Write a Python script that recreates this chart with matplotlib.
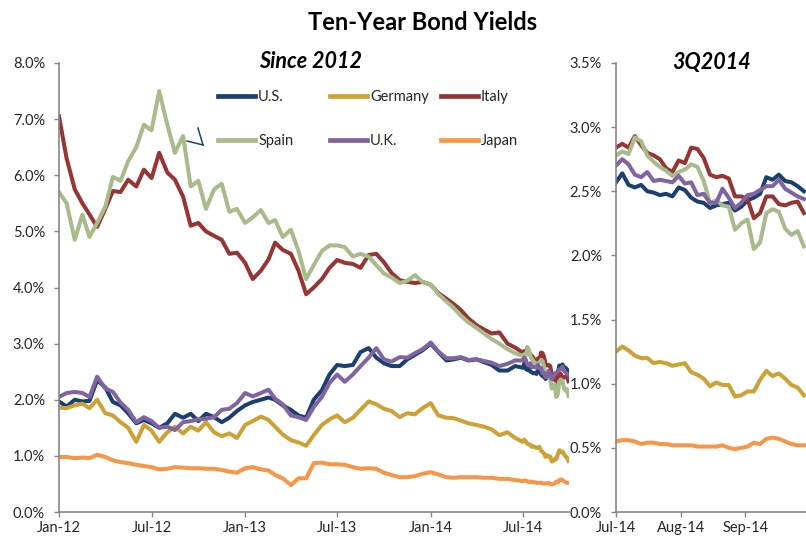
import pandas as pd
import matplotlib
matplotlib.use("Agg")
import matplotlib.pyplot as plt
import matplotlib.dates as mdates
from matplotlib.lines import Line2D
from matplotlib.ticker import FuncFormatter, MultipleLocator

plt.rcParams['font.family'] = ['Lato', 'DejaVu Sans']

# readings on the 1st and 16th of each month, Jan-12 .. mid Jun-14
hist_dates = [pd.Timestamp(y, m, d) for y in (2012, 2013, 2014)
              for m in range(1, 13) for d in (1, 16)][:60]
# 3Q2014 readings, every third day from Jul 1
q3_dates = list(pd.date_range('2014-07-01', periods=31, freq='3D'))

us_hist = [1.97, 1.88, 2.00, 1.97, 1.98, 2.35, 2.22, 1.96, 1.90, 1.76,
           1.58, 1.64, 1.58, 1.50, 1.58, 1.75, 1.68, 1.75, 1.62, 1.75,
           1.69, 1.60, 1.68, 1.80, 1.90, 1.96, 2.00, 2.04, 2.00, 1.90,
           1.82, 1.72, 1.68, 2.00, 2.17, 2.45, 2.62, 2.60, 2.62, 2.85,
           2.92, 2.75, 2.65, 2.60, 2.60, 2.72, 2.80, 2.88, 3.00, 2.85,
           2.70, 2.72, 2.75, 2.70, 2.72, 2.67, 2.62, 2.52, 2.52, 2.60]
germany_hist = [1.86, 1.85, 1.90, 1.93, 1.85, 2.00, 1.76, 1.72, 1.60, 1.50,
                1.25, 1.55, 1.45, 1.25, 1.42, 1.52, 1.40, 1.52, 1.45, 1.60,
                1.42, 1.35, 1.40, 1.32, 1.55, 1.62, 1.70, 1.64, 1.52, 1.38,
                1.28, 1.24, 1.18, 1.37, 1.55, 1.65, 1.72, 1.60, 1.68, 1.82,
                1.97, 1.92, 1.84, 1.80, 1.69, 1.76, 1.74, 1.85, 1.94, 1.72,
                1.68, 1.67, 1.63, 1.58, 1.55, 1.52, 1.47, 1.37, 1.42, 1.32]
italy_hist = [7.05, 6.30, 5.75, 5.50, 5.30, 5.08, 5.40, 5.72, 5.70, 5.92,
              5.80, 6.10, 5.95, 6.40, 6.05, 5.92, 5.62, 5.10, 5.15, 5.00,
              4.92, 4.85, 4.60, 4.62, 4.44, 4.15, 4.30, 4.50, 4.80, 4.67,
              4.60, 4.30, 3.88, 4.00, 4.15, 4.35, 4.49, 4.44, 4.42, 4.35,
              4.58, 4.60, 4.45, 4.26, 4.13, 4.10, 4.08, 4.10, 4.05, 3.90,
              3.80, 3.70, 3.60, 3.45, 3.33, 3.25, 3.18, 3.20, 3.00, 2.93]
spain_hist = [5.70, 5.50, 4.85, 5.30, 4.90, 5.15, 5.44, 5.97, 5.90, 6.25,
              6.50, 6.90, 6.80, 7.50, 6.90, 6.40, 6.70, 5.80, 5.90, 5.40,
              5.75, 5.85, 5.35, 5.40, 5.15, 5.25, 5.38, 5.15, 5.20, 4.90,
              5.03, 4.65, 4.15, 4.40, 4.65, 4.75, 4.75, 4.72, 4.55, 4.60,
              4.55, 4.40, 4.25, 4.18, 4.08, 4.12, 4.22, 4.10, 4.05, 3.88,
              3.75, 3.63, 3.50, 3.38, 3.28, 3.18, 3.08, 3.00, 2.90, 2.83]
uk_hist = [2.05, 2.12, 2.14, 2.12, 2.05, 2.41, 2.20, 2.14, 1.95, 1.82,
           1.60, 1.69, 1.62, 1.50, 1.52, 1.46, 1.60, 1.62, 1.65, 1.66,
           1.69, 1.82, 1.84, 1.94, 2.12, 2.06, 2.12, 2.18, 2.02, 1.92,
           1.72, 1.69, 1.64, 1.87, 2.05, 2.30, 2.45, 2.32, 2.45, 2.60,
           2.75, 2.92, 2.72, 2.68, 2.76, 2.75, 2.83, 2.90, 3.02, 2.86,
           2.74, 2.74, 2.76, 2.71, 2.72, 2.69, 2.66, 2.60, 2.64, 2.70]
japan_hist = [0.98, 0.98, 0.96, 0.97, 0.96, 1.02, 0.98, 0.92, 0.89, 0.87,
              0.84, 0.82, 0.80, 0.76, 0.77, 0.80, 0.79, 0.78, 0.78, 0.77,
              0.77, 0.75, 0.72, 0.70, 0.78, 0.80, 0.76, 0.74, 0.66, 0.60,
              0.48, 0.60, 0.60, 0.87, 0.88, 0.85, 0.85, 0.84, 0.80, 0.77,
              0.78, 0.77, 0.70, 0.66, 0.62, 0.62, 0.64, 0.68, 0.71, 0.67,
              0.62, 0.61, 0.62, 0.62, 0.62, 0.61, 0.61, 0.59, 0.59, 0.57]

us_q3 = [2.57, 2.64, 2.55, 2.53, 2.55, 2.50, 2.49, 2.47, 2.48, 2.46,
         2.53, 2.51, 2.45, 2.42, 2.41, 2.37, 2.39, 2.40, 2.41, 2.35,
         2.38, 2.43, 2.45, 2.48, 2.61, 2.59, 2.63, 2.58, 2.57, 2.54, 2.50]
germany_q3 = [1.25, 1.29, 1.26, 1.22, 1.20, 1.20, 1.16, 1.17, 1.16, 1.14,
              1.15, 1.16, 1.09, 1.07, 1.04, 0.98, 1.01, 0.99, 0.99, 0.90,
              0.91, 0.94, 0.94, 1.03, 1.10, 1.06, 1.08, 1.04, 0.99, 0.97, 0.91]
italy_q3 = [2.84, 2.87, 2.84, 2.93, 2.86, 2.80, 2.78, 2.75, 2.68, 2.65,
            2.74, 2.72, 2.84, 2.83, 2.76, 2.63, 2.61, 2.62, 2.60, 2.46,
            2.46, 2.44, 2.29, 2.33, 2.46, 2.46, 2.40, 2.39, 2.41, 2.42, 2.33]
spain_q3 = [2.78, 2.81, 2.79, 2.92, 2.89, 2.78, 2.73, 2.69, 2.66, 2.62,
            2.65, 2.67, 2.71, 2.69, 2.58, 2.41, 2.43, 2.39, 2.38, 2.20,
            2.25, 2.28, 2.05, 2.10, 2.33, 2.36, 2.34, 2.21, 2.16, 2.19, 2.07]
uk_q3 = [2.70, 2.75, 2.71, 2.63, 2.61, 2.65, 2.58, 2.59, 2.58, 2.57,
         2.62, 2.56, 2.57, 2.47, 2.48, 2.41, 2.41, 2.52, 2.45, 2.37,
         2.41, 2.47, 2.48, 2.51, 2.54, 2.54, 2.59, 2.52, 2.49, 2.46, 2.44]
japan_q3 = [0.55, 0.56, 0.56, 0.55, 0.53, 0.54, 0.54, 0.53, 0.53, 0.52,
            0.52, 0.52, 0.52, 0.51, 0.51, 0.51, 0.51, 0.52, 0.50, 0.49,
            0.50, 0.51, 0.54, 0.53, 0.57, 0.58, 0.57, 0.55, 0.53, 0.52, 0.52]

names = ['U.S.', 'Germany', 'Italy', 'Spain', 'U.K.', 'Japan']
colors = ['#1b3f6e', '#cda134', '#963634', '#a7bb8b', '#8064a2', '#f79646']
hist = [us_hist, germany_hist, italy_hist, spain_hist, uk_hist, japan_hist]
q3 = [us_q3, germany_q3, italy_q3, spain_q3, uk_q3, japan_q3]

W, H = 806, 539
fig = plt.figure(figsize=(W / 100, H / 100), dpi=100)
ax1 = fig.add_axes([59 / W, 1 - 512 / H, (569 - 59) / W, (512 - 63) / H])
ax2 = fig.add_axes([616 / W, 1 - 512 / H, (806 - 616) / W, (512 - 63) / H])

for name, c, h, q in zip(names, colors, hist, q3):
    ax1.plot(hist_dates + q3_dates, h + q, color=c, lw=2.9, label=name,
             solid_joinstyle='round')
    ax2.plot(q3_dates, q, color=c, lw=2.9, solid_joinstyle='round')

pct = FuncFormatter(lambda v, p: f'{v:.1f}%')
for ax in (ax1, ax2):
    for s in ('top', 'right'):
        ax.spines[s].set_visible(False)
    for s in ('left', 'bottom'):
        ax.spines[s].set_color('#868686')
        ax.spines[s].set_linewidth(1.2)
    ax.tick_params(direction='out', length=3.6, width=1, color='#868686',
                   labelsize=10.5, labelcolor='#262626')
    ax.tick_params(axis='y', pad=6.5)
    ax.tick_params(axis='x', pad=3)
    ax.xaxis.set_major_formatter(mdates.DateFormatter('%b-%y'))
    ax.yaxis.set_major_formatter(pct)

ax1.set_xlim(pd.Timestamp('2012-01-01'), pd.Timestamp('2014-09-30'))
ax1.set_ylim(0, 8)
ax1.yaxis.set_major_locator(MultipleLocator(1))
ax1.set_xticks([pd.Timestamp(t) for t in
                ['2012-01-01', '2012-07-01', '2013-01-01', '2013-07-01', '2014-01-01', '2014-07-01']])

ax2.set_xlim(pd.Timestamp('2014-07-01'), pd.Timestamp('2014-09-30'))
ax2.set_ylim(0, 3.5)
ax2.yaxis.set_major_locator(MultipleLocator(0.5))
ax2.set_xticks([pd.Timestamp(t) for t in ['2014-07-01', '2014-08-01', '2014-09-01']])

fig.text(423 / W, 1 - 22 / H, 'Ten-Year Bond Yields', ha='center', va='center',
         fontsize=17, fontweight='bold', color='black')
fig.text(311 / W, 1 - 62 / H, 'Since 2012', ha='center', va='center',
         fontsize=15.5, fontweight='bold', fontstyle='italic', color='black')
fig.text(712 / W, 1 - 62 / H, '3Q2014', ha='center', va='center',
         fontsize=15.5, fontweight='bold', fontstyle='italic', color='black')

# legend: three columns of two entries each
cols = [(0, 3), (1, 4), (2, 5)]
anchors = [218, 330, 441]
for (i, j), x in zip(cols, anchors):
    handles = [Line2D([], [], color=colors[k], lw=3.4) for k in (i, j)]
    leg = ax1.legend(handles, [names[i], names[j]], loc='upper left',
                     bbox_to_anchor=(x / W, 1 - 90 / H), bbox_transform=fig.transFigure,
                     frameon=False, fontsize=10.5, handlelength=2.55, handletextpad=0.2,
                     borderpad=0, borderaxespad=0, labelspacing=2.05)
    for t in leg.get_texts():
        t.set_color('#262626')
    ax1.add_artist(leg)
ax1.legend_ = None

# stray connector marks near the Spain peak
fig.add_artist(Line2D([198 / W, 203 / W], [1 - 128 / H, 1 - 145 / H],
                      transform=fig.transFigure, color='#1b3f6e', lw=1.1))
fig.add_artist(Line2D([187 / W, 203 / W], [1 - 141 / H, 1 - 145 / H],
                      transform=fig.transFigure, color='#1b3f6e', lw=1.1))

fig.savefig('out.png', dpi=100)
